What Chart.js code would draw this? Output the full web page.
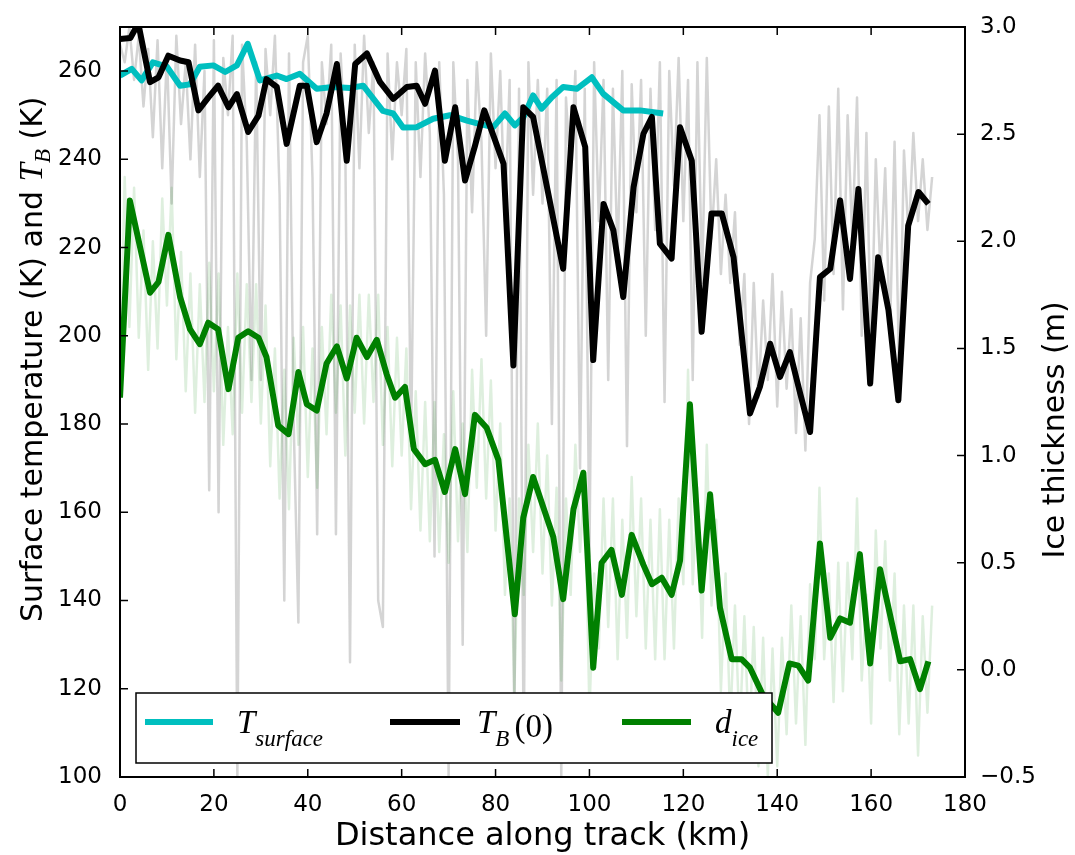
<!DOCTYPE html>
<html>
<head>
<meta charset="utf-8">
<script src="https://cdn.jsdelivr.net/npm/chart.js@4.4.1/dist/chart.umd.min.js"></script>
<style>
  html, body { margin: 0; padding: 0; background: #fff; }
  #wrap { width: 1075px; height: 855px; position: relative; }
</style>
</head>
<body>
<div id="wrap"><canvas id="chart"></canvas></div>
<script>
// smoothed series (km along track)
const surfKm = [0, 2.5, 4.6, 7, 10, 12.8, 14.9, 17, 19.9, 22.4, 24.9, 27.2, 29.8, 33.4, 35.5, 38.3, 41.9, 45.4, 49, 51.8,
  56, 58.2, 60.3, 63.2, 66.7, 70.3, 73.9, 76.7, 79.5, 82, 84.1, 85.9, 88, 89.8, 92, 94.4, 97.3, 100.5, 102.9, 107.2, 110.8, 115.7];
const surfT = [259, 260.5, 257.9, 262, 261, 256.7, 257, 261, 261.3, 259.8, 261.3, 266.2, 257.9, 259, 258.2, 259.4, 256, 256.4, 256.2, 256.7,
  251, 250.4, 247.2, 247.3, 249.2, 250, 248.8, 248, 247.3, 250.4, 247.7, 249.5, 254.5, 251.5, 254.1, 256.4, 256, 258.6, 254.9, 251.1, 251.1, 250.4];

const tbKm = [0, 2.2, 3.9, 6.4, 8.2, 10.3, 12.8, 14.6, 16.7, 18.8, 20.9, 23.1, 24.9, 27.3, 29.5, 31.2, 33.4, 35.5, 38.3, 39.8,
  41.9, 44, 46.2, 48.3, 50.1, 52.6, 55.4, 58.2, 61.1, 63.2, 65, 67.1, 69.2, 71.4, 73.5, 75.6, 77.6, 81.7, 83.8, 85.9,
  88, 94.4, 96.6, 99.1, 100.8, 103, 105.1, 107.2, 109.4, 111.5, 113.3, 115, 117.5, 119.3, 121.8, 123.9, 126, 128.2, 130.7, 134.2,
  136.3, 138.5, 140.6, 142.7, 144.9, 147, 149.1, 151.3, 153.4, 155.5, 157.3, 159.8, 161.5, 163.7, 165.8, 167.9, 170.1, 172.2];
const tbT = [267.3, 267.5, 270.8, 257.5, 258.6, 263.5, 262.4, 262, 251.1, 254, 256.7, 251.8, 254.8, 246.2, 249.9, 258.2, 256.4, 243.5, 256.7, 256.7,
  243.9, 250.4, 261.6, 239.7, 261.6, 264, 257.5, 253.7, 256.4, 256.7, 252.6, 260.1, 239.7, 251.8, 235.2, 243, 251.1, 239, 193.3, 251.8,
  249.6, 215.2, 251.8, 242.8, 194.5, 229.9, 223.9, 208.8, 233.7, 245.8, 249.6, 220.9, 217.5, 247.3, 239.7, 200.9, 227.7, 227.7, 217.8, 182.4,
  188.4, 198.2, 190.7, 196.3, 186.9, 178.2, 213.3, 215.2, 230.7, 212.9, 233.3, 189.2, 217.8, 205.8, 185.4, 225, 232.6, 229.9];

const iceKm = [0, 2.1, 6.4, 8.2, 10.3, 12.8, 14.9, 17, 18.8, 20.9, 23.1, 25.2, 27.3, 29.5, 31.2, 33.7, 35.9, 38, 39.8, 41.9,
  44, 46.2, 48.3, 50.4, 52.6, 54.7, 56.8, 58.6, 60.7, 62.6, 65, 67.1, 69.2, 71.4, 73.5, 75.6, 78.1, 80.6, 84.1, 85.9,
  88, 92.3, 94.4, 96.6, 98.7, 100.8, 102.6, 104.7, 106.9, 109, 111.5, 113.3, 115.4, 117.5, 119.3, 121.4, 123.9, 125.7, 127.8, 130.3,
  132.4, 134.2, 137, 140.2, 142.6, 144.5, 146.6, 149.1, 151.3, 153.4, 155.5, 157.6, 159.8, 161.9, 164, 166.2, 168.3, 170.4, 172.2];
const iceD = [1.27, 2.19, 1.76, 1.81, 2.03, 1.74, 1.59, 1.52, 1.62, 1.59, 1.31, 1.55, 1.58, 1.55, 1.46, 1.14, 1.10, 1.39, 1.24, 1.21,
  1.43, 1.51, 1.36, 1.55, 1.46, 1.54, 1.38, 1.27, 1.32, 1.03, 0.96, 0.98, 0.83, 1.03, 0.82, 1.19, 1.13, 0.98, 0.26, 0.71,
  0.90, 0.62, 0.33, 0.75, 0.92, 0.01, 0.50, 0.56, 0.35, 0.63, 0.49, 0.40, 0.43, 0.35, 0.51, 1.24, 0.37, 0.82, 0.29, 0.05,
  0.05, 0.01, -0.12, -0.20, 0.03, 0.02, -0.05, 0.59, 0.15, 0.24, 0.22, 0.54, 0.03, 0.47, 0.26, 0.04, 0.05, -0.09, 0.04];

// raw 1 km samples, km 0..173
const rawTB = [
  266, 262, 270, 258, 268, 252, 265, 245, 267, 238,
  264, 230, 268, 248, 262, 240, 266, 236, 260, 165,
  267, 160, 263, 250, 268, 100, 266, 244, 190, 262,
  190, 265, 250, 268, 232, 140, 264, 180, 135, 262,
  268, 236, 155, 262, 248, 266, 155, 264, 242, 126,
  266, 238, 268, 246, 262, 140, 134, 264, 240, 262,
  250, 265, 175, 262, 236, 264, 246, 150, 262, 232,
  100, 262, 240, 130, 258, 228, 262, 244, 200, 264,
  238, 260, 226, 258, 110, 256, 104, 262, 232, 258,
  230, 256, 180, 258, 100, 254, 236, 260, 170, 256,
  150, 262, 226, 258, 190, 256, 218, 260, 175, 257,
  228, 258, 200, 256, 224, 262, 185, 260, 234, 263,
  226, 258, 190, 262, 212, 263, 222, 240, 214, 232,
  212, 228, 198, 214, 180, 212, 186, 208, 190, 214,
  184, 210, 188, 206, 178, 204, 174, 212, 222, 250,
  208, 252, 214, 256, 206, 250, 222, 254, 200, 246,
  196, 240, 214, 238, 200, 244, 190, 242, 222, 246,
  226, 240, 224, 236];
const rawIce = [
  1.30, 2.30, 1.60, 2.25, 1.55, 2.05, 1.40, 2.00, 1.50, 2.20,
  1.70, 2.25, 1.45, 1.95, 1.30, 1.85, 1.20, 1.80, 1.25, 1.90,
  1.30, 1.85, 1.05, 1.60, 1.10, 1.85, 1.20, 1.80, 1.25, 1.80,
  1.15, 1.70, 0.95, 1.50, 0.80, 1.40, 0.75, 1.55, 1.05, 1.60,
  0.90, 1.50, 0.85, 1.60, 1.10, 1.75, 1.20, 1.70, 1.00, 1.70,
  1.20, 1.75, 1.15, 1.75, 1.25, 1.75, 1.05, 1.60, 0.95, 1.55,
  1.00, 1.50, 0.75, 1.30, 0.65, 1.25, 0.60, 1.25, 0.55, 1.10,
  0.50, 1.30, 0.60, 1.15, 0.55, 1.40, 0.85, 1.45, 0.80, 1.35,
  0.65, 1.15, 0.35, 0.80, -0.10, 0.80, 0.35, 1.05, 0.55, 1.15,
  0.45, 1.00, 0.30, 0.85, -0.05, 0.80, 0.35, 1.05, 0.55, 0.90,
  -0.20, 0.45, 0.10, 0.80, 0.20, 0.80, 0.05, 0.70, 0.15, 0.90,
  0.25, 0.80, 0.10, 0.70, 0.05, 0.75, 0.05, 0.70, 0.10, 0.80,
  0.40, 1.40, 0.40, 0.85, 0.15, 1.05, 0.30, 0.70, -0.10, 0.45,
  -0.25, 0.30, -0.30, 0.25, -0.35, 0.20, -0.45, 0.15, -0.50, 0.10,
  -0.45, 0.15, -0.30, 0.30, -0.25, 0.25, -0.35, 0.40, 0.05, 0.85,
  0.05, 0.45, -0.15, 0.50, -0.10, 0.50, 0.05, 0.80, -0.05, 0.35,
  -0.25, 0.65, 0.10, 0.60, -0.05, 0.45, -0.30, 0.30, -0.25, 0.30,
  -0.40, 0.25, -0.20, 0.30];

const xTicks = [0, 20, 40, 60, 80, 100, 120, 140, 160, 180];
const leftTicks = [100, 120, 140, 160, 180, 200, 220, 240, 260];
const rightTicks = [-0.5, 0.0, 0.5, 1.0, 1.5, 2.0, 2.5, 3.0];

const CYAN = '#00bfbf', GREEN = '#008000';

function pts(xs, ys) { return xs.map((x, i) => ({ x, y: ys[i] })); }
function rawPts(ys) { return ys.map((y, i) => ({ x: i, y })); }

const decor = {
  id: 'decor',
  afterDatasetsDraw(chart) {
    const { ctx, chartArea: a, scales } = chart;
    ctx.save();
    ctx.strokeStyle = '#000';
    ctx.lineWidth = 1.5;
    ctx.beginPath();
    xTicks.forEach(v => {
      const p = scales.x.getPixelForValue(v);
      ctx.moveTo(p, a.bottom); ctx.lineTo(p, a.bottom - 8);
      ctx.moveTo(p, a.top); ctx.lineTo(p, a.top + 8);
    });
    leftTicks.forEach(v => {
      const p = scales.y.getPixelForValue(v);
      ctx.moveTo(a.left, p); ctx.lineTo(a.left + 8, p);
    });
    rightTicks.forEach(v => {
      const p = scales.y1.getPixelForValue(v);
      ctx.moveTo(a.right, p); ctx.lineTo(a.right - 8, p);
    });
    ctx.stroke();
    ctx.lineWidth = 2;
    ctx.strokeRect(a.left, a.top, a.right - a.left, a.bottom - a.top);

    // legend
    const lx = a.left + 16, ly = a.bottom - 84, lw = 636, lh = 70;
    ctx.fillStyle = '#fff';
    ctx.fillRect(lx, ly, lw, lh);
    ctx.lineWidth = 1.5;
    ctx.strokeRect(lx, ly, lw, lh);
    const hy = ly + 29, base = ly + 40, sub = ly + 53;
    const handle = (x0, x1, col) => {
      ctx.strokeStyle = col; ctx.lineWidth = 6;
      ctx.beginPath(); ctx.moveTo(lx + x0, hy); ctx.lineTo(lx + x1, hy); ctx.stroke();
    };
    handle(9, 77, CYAN); handle(254, 324, '#000'); handle(486, 555, GREEN);
    ctx.fillStyle = '#000';
    ctx.textBaseline = 'alphabetic'; ctx.textAlign = 'left';
    const big = "italic 33px 'Liberation Serif'", small = "italic 23px 'Liberation Serif'";
    const mathSub = (x, main, s) => {
      ctx.font = big; ctx.fillText(main, x, base);
      const w = ctx.measureText(main).width;
      ctx.font = small; ctx.fillText(s, x + w, sub);
      return x + w + ctx.measureText(s).width;
    };
    mathSub(lx + 101, 'T', 'surface');
    const e = mathSub(lx + 341, 'T', 'B');
    ctx.font = "33px 'Liberation Serif'";
    ctx.fillText('(0)', e + 5, base + 4);
    mathSub(lx + 579, 'd', 'ice');

    // axis titles
    ctx.fillStyle = '#000';
    ctx.font = "32px 'DejaVu Sans'";
    ctx.textAlign = 'center';
    ctx.fillText('Distance along track (km)', (a.left + a.right) / 2, 845);

    ctx.save();
    ctx.translate(1064, 430);
    ctx.rotate(-Math.PI / 2);
    ctx.font = "30px 'DejaVu Sans'";
    ctx.fillText('Ice thickness (m)', 0, 0);
    ctx.restore();

    ctx.save();
    ctx.translate(42, 622);
    ctx.rotate(-Math.PI / 2);
    ctx.textAlign = 'left';
    ctx.font = "30px 'DejaVu Sans'";
    const t1 = 'Surface temperature (K) and ';
    ctx.fillText(t1, 0, 0);
    let x = ctx.measureText(t1).width;
    ctx.font = "italic 33px 'Liberation Serif'";
    ctx.fillText('T', x, 0);
    x += ctx.measureText('T').width;
    ctx.font = "italic 23px 'Liberation Serif'";
    ctx.fillText('B', x, 8);
    x += ctx.measureText('B').width;
    ctx.font = "30px 'DejaVu Sans'";
    ctx.fillText(' (K)', x, 0);
    ctx.restore();
    ctx.restore();
  }
};

const tickFont = { family: 'DejaVu Sans', size: 23 };

new Chart(document.getElementById('chart'), {
  type: 'line',
  data: {
    datasets: [
      { data: rawPts(rawTB), yAxisID: 'y', borderColor: 'rgba(160,160,160,0.45)', borderWidth: 2.5, order: 5 },
      { data: pts(surfKm, surfT), yAxisID: 'y', borderColor: CYAN, borderWidth: 6, order: 4 },
      { data: pts(tbKm, tbT), yAxisID: 'y', borderColor: '#000', borderWidth: 6, order: 3 },
      { data: rawPts(rawIce), yAxisID: 'y1', borderColor: 'rgba(0,128,0,0.13)', borderWidth: 2.5, order: 2 },
      { data: pts(iceKm, iceD), yAxisID: 'y1', borderColor: GREEN, borderWidth: 6, order: 1 }
    ]
  },
  options: {
    responsive: true,
    maintainAspectRatio: false,
    animation: false,
    layout: { padding: { top: 27, left: 0, right: 0, bottom: 0 } },
    elements: {
      point: { radius: 0 },
      line: { tension: 0, borderJoinStyle: 'round', borderCapStyle: 'butt', fill: false }
    },
    plugins: { legend: { display: false }, tooltip: { enabled: false } },
    scales: {
      x: {
        type: 'linear', min: 0, max: 180,
        grid: { display: false }, border: { display: false },
        afterBuildTicks: s => { s.ticks = xTicks.map(v => ({ value: v })); },
        afterFit: s => { s.height = 78; },
        ticks: { font: tickFont, color: '#000', padding: 6, maxRotation: 0, autoSkip: false }
      },
      y: {
        type: 'linear', position: 'left', min: 100, max: 270,
        grid: { display: false }, border: { display: false },
        afterBuildTicks: s => { s.ticks = leftTicks.map(v => ({ value: v })); },
        afterFit: s => { s.width = 120; },
        ticks: { font: tickFont, color: '#000', padding: 10 }
      },
      y1: {
        type: 'linear', position: 'right', min: -0.5, max: 3.0,
        grid: { display: false }, border: { display: false },
        afterBuildTicks: s => { s.ticks = rightTicks.map(v => ({ value: v })); },
        afterFit: s => { s.width = 110; },
        ticks: { font: tickFont, color: '#000', padding: 7,
          callback: v => Number(v).toFixed(1).replace('-', '\u2212') }
      }
    }
  },
  plugins: [decor]
});
</script>
</body>
</html>
